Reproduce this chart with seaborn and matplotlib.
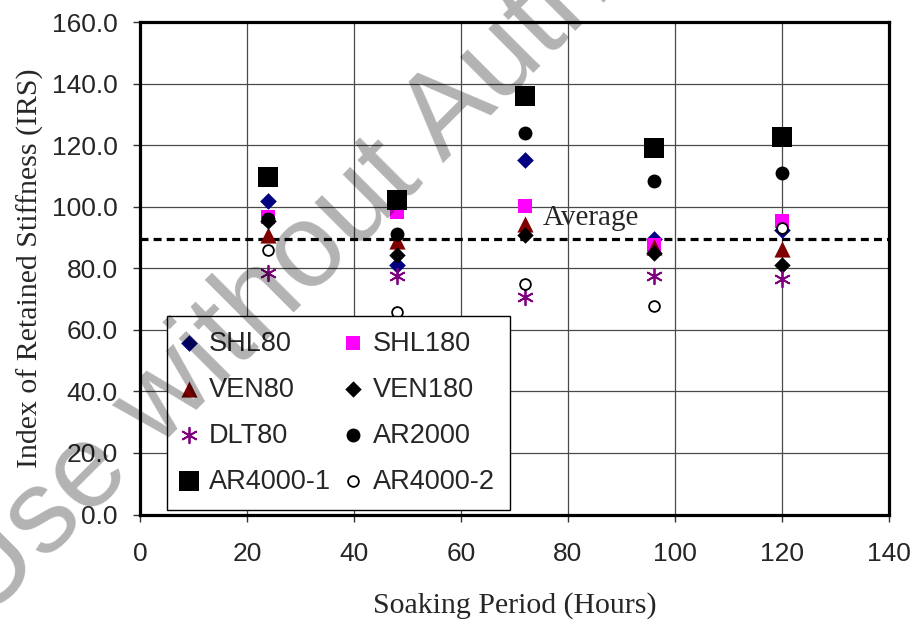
import matplotlib
matplotlib.use("Agg")
import matplotlib.pyplot as plt
import seaborn as sns
import numpy as np
import pandas as pd

# Soaking periods (hours) and retained-stiffness index per binder
hours = [24, 48, 72, 96, 120]
shl80 = [101.7, 81.2, 115.3, 89.6, 92.5]
shl180 = [96.5, 98.3, 100.1, 87.7, 95.2]
ven80 = [90.9, 89.0, 94.5, 87.0, 86.2]
ven180 = [95.5, 84.4, 90.9, 85.0, 81.2]
dlt80 = [78.5, 77.6, 70.8, 77.4, 76.5]
ar2000 = [96.0, 91.1, 123.9, 108.2, 110.9]
ar4000_1 = [109.6, 102.3, 136.0, 119.0, 122.5]
ar4000_2 = [85.8, 65.7, 75.0, 67.6, 93.1]
average_irs = 89.5

series_names = ["SHL80", "SHL180", "VEN80", "VEN180", "DLT80",
                "AR2000", "AR4000-1", "AR4000-2"]
series_values = [shl80, shl180, ven80, ven180, dlt80, ar2000, ar4000_1, ar4000_2]

df = pd.DataFrame({
    "hours": np.tile(hours, len(series_names)),
    "irs": np.concatenate(series_values),
    "binder": np.repeat(series_names, len(hours)),
})

# marker, size, face colour, edge colour, edge width
styles = {
    "SHL80":    dict(marker="D", s=72, color="#000080", edgecolor="#000080", linewidth=0),
    "SHL180":   dict(marker="s", s=95, color="#FF00FF", edgecolor="#FF00FF", linewidth=0),
    "VEN80":    dict(marker="^", s=135, color="#800000", edgecolor="#800000", linewidth=0),
    "VEN180":   dict(marker="D", s=70, color="black", edgecolor="black", linewidth=0),
    "DLT80":    dict(marker=(6, 2, 0), s=125, color="#800080", linewidth=1.3),
    "AR2000":   dict(marker="o", s=100, color="black", edgecolor="black", linewidth=0),
    "AR4000-1": dict(marker="s", s=210, color="black", edgecolor="black", linewidth=0),
    "AR4000-2": dict(marker="o", s=60, color="white", edgecolor="black", linewidth=1.3),
}

sns.set_style("white")
plt.rcParams["font.family"] = ["Liberation Sans", "DejaVu Sans"]

fig = plt.figure(figsize=(9.15, 6.23), dpi=100)
ax = fig.add_axes([140 / 915, 1 - 514.5 / 623, 749 / 915, 492.5 / 623])

for i, name in enumerate(series_names):
    sub = df[df["binder"] == name]
    sns.scatterplot(data=sub, x="hours", y="irs", ax=ax, label=name,
                    legend=False, zorder=3 + i * 0.01, **styles[name])

# average line and its label
ax.axhline(average_irs, color="black", lw=2.3, ls=(0, (2.5, 1.6)), zorder=2.5)
ax.text(75.2, 94.2, "Average", family="Liberation Serif", fontsize=21,
        ha="left", va="baseline", zorder=4)

ax.set_xlim(0, 140)
ax.set_ylim(0, 160)
ax.set_xticks(range(0, 141, 20))
ax.set_yticks(range(0, 161, 20))
ax.set_yticklabels([f"{v:.1f}" for v in range(0, 161, 20)])
ax.grid(True, color="#4a4a4a", lw=0.9, zorder=0)
ax.set_axisbelow(True)
for sp in ax.spines.values():
    sp.set_visible(True)
    sp.set_color("black")
    sp.set_linewidth(2.3)
ax.tick_params(axis="both", direction="out", length=5, width=1, color="#333333",
               labelsize=19, bottom=True, left=True)
ax.tick_params(axis="y", pad=11)
ax.tick_params(axis="x", pad=15)

ax.set_xlabel("Soaking Period (Hours)", family="Liberation Serif", fontsize=21.5)
ax.set_ylabel("Index of Retained Stiffness (IRS)", family="Liberation Serif", fontsize=21.5)
ax.xaxis.set_label_coords(0.5, -0.184)
ax.xaxis.label.set_va("center")
ax.yaxis.set_label_coords(-0.147, 0.5)
ax.yaxis.label.set_va("center")

# legend filled row by row in two columns
handles, labels = ax.get_legend_handles_labels()
order = [0, 2, 4, 6, 1, 3, 5, 7]
leg = ax.legend([handles[k] for k in order], [labels[k] for k in order],
                ncol=2, loc="lower left", bbox_to_anchor=(0.036, 0.01),
                fontsize=19.5, frameon=True, fancybox=False, framealpha=1,
                edgecolor="black", borderpad=0.55, labelspacing=0.74,
                handlelength=0.55, handletextpad=0.45, columnspacing=0.55,
                borderaxespad=0, scatterpoints=1, scatteryoffsets=[0.42])
leg.get_frame().set_linewidth(1.0)
leg.set_zorder(6)

fig.text(-17 / 915, 0.0, "Use without Author's permission", fontsize=86,
         family="Liberation Sans", color="black", alpha=0.3, rotation=45,
         rotation_mode="anchor", ha="left", va="baseline", zorder=10)

fig.savefig("out.png", dpi=100)
